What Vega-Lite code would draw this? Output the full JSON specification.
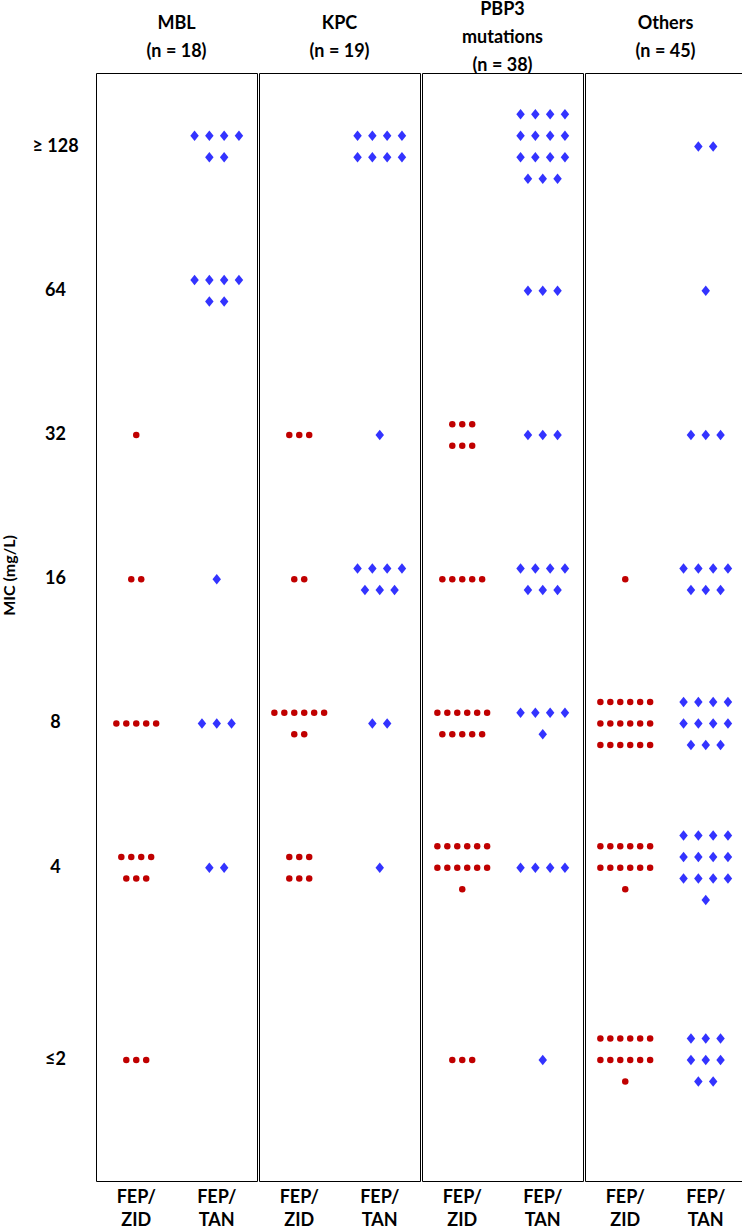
{
"$schema":"https://vega.github.io/schema/vega-lite/v6.json",
"padding":{"left":1,"top":1,"right":0,"bottom":0},
"background":"white",
"data":{"values":[
{"g":"MBL (n = 18)","d":"FEP/ZID","mic":"32","r":0,"c":0},
{"g":"MBL (n = 18)","d":"FEP/ZID","mic":"16","r":0,"c":-0.5},
{"g":"MBL (n = 18)","d":"FEP/ZID","mic":"16","r":0,"c":0.5},
{"g":"MBL (n = 18)","d":"FEP/ZID","mic":"8","r":0,"c":-2},
{"g":"MBL (n = 18)","d":"FEP/ZID","mic":"8","r":0,"c":-1},
{"g":"MBL (n = 18)","d":"FEP/ZID","mic":"8","r":0,"c":0},
{"g":"MBL (n = 18)","d":"FEP/ZID","mic":"8","r":0,"c":1},
{"g":"MBL (n = 18)","d":"FEP/ZID","mic":"8","r":0,"c":2},
{"g":"MBL (n = 18)","d":"FEP/ZID","mic":"4","r":-0.5,"c":-1.5},
{"g":"MBL (n = 18)","d":"FEP/ZID","mic":"4","r":-0.5,"c":-0.5},
{"g":"MBL (n = 18)","d":"FEP/ZID","mic":"4","r":-0.5,"c":0.5},
{"g":"MBL (n = 18)","d":"FEP/ZID","mic":"4","r":-0.5,"c":1.5},
{"g":"MBL (n = 18)","d":"FEP/ZID","mic":"4","r":0.5,"c":-1},
{"g":"MBL (n = 18)","d":"FEP/ZID","mic":"4","r":0.5,"c":0},
{"g":"MBL (n = 18)","d":"FEP/ZID","mic":"4","r":0.5,"c":1},
{"g":"MBL (n = 18)","d":"FEP/ZID","mic":"≤2","r":0,"c":-1},
{"g":"MBL (n = 18)","d":"FEP/ZID","mic":"≤2","r":0,"c":0},
{"g":"MBL (n = 18)","d":"FEP/ZID","mic":"≤2","r":0,"c":1},
{"g":"MBL (n = 18)","d":"FEP/TAN","mic":"≥ 128","r":-0.5,"c":-1.5},
{"g":"MBL (n = 18)","d":"FEP/TAN","mic":"≥ 128","r":-0.5,"c":-0.5},
{"g":"MBL (n = 18)","d":"FEP/TAN","mic":"≥ 128","r":-0.5,"c":0.5},
{"g":"MBL (n = 18)","d":"FEP/TAN","mic":"≥ 128","r":-0.5,"c":1.5},
{"g":"MBL (n = 18)","d":"FEP/TAN","mic":"≥ 128","r":0.5,"c":-0.5},
{"g":"MBL (n = 18)","d":"FEP/TAN","mic":"≥ 128","r":0.5,"c":0.5},
{"g":"MBL (n = 18)","d":"FEP/TAN","mic":"64","r":-0.5,"c":-1.5},
{"g":"MBL (n = 18)","d":"FEP/TAN","mic":"64","r":-0.5,"c":-0.5},
{"g":"MBL (n = 18)","d":"FEP/TAN","mic":"64","r":-0.5,"c":0.5},
{"g":"MBL (n = 18)","d":"FEP/TAN","mic":"64","r":-0.5,"c":1.5},
{"g":"MBL (n = 18)","d":"FEP/TAN","mic":"64","r":0.5,"c":-0.5},
{"g":"MBL (n = 18)","d":"FEP/TAN","mic":"64","r":0.5,"c":0.5},
{"g":"MBL (n = 18)","d":"FEP/TAN","mic":"16","r":0,"c":0},
{"g":"MBL (n = 18)","d":"FEP/TAN","mic":"8","r":0,"c":-1},
{"g":"MBL (n = 18)","d":"FEP/TAN","mic":"8","r":0,"c":0},
{"g":"MBL (n = 18)","d":"FEP/TAN","mic":"8","r":0,"c":1},
{"g":"MBL (n = 18)","d":"FEP/TAN","mic":"4","r":0,"c":-0.5},
{"g":"MBL (n = 18)","d":"FEP/TAN","mic":"4","r":0,"c":0.5},
{"g":"KPC (n = 19)","d":"FEP/ZID","mic":"32","r":0,"c":-1},
{"g":"KPC (n = 19)","d":"FEP/ZID","mic":"32","r":0,"c":0},
{"g":"KPC (n = 19)","d":"FEP/ZID","mic":"32","r":0,"c":1},
{"g":"KPC (n = 19)","d":"FEP/ZID","mic":"16","r":0,"c":-0.5},
{"g":"KPC (n = 19)","d":"FEP/ZID","mic":"16","r":0,"c":0.5},
{"g":"KPC (n = 19)","d":"FEP/ZID","mic":"8","r":-0.5,"c":-2.5},
{"g":"KPC (n = 19)","d":"FEP/ZID","mic":"8","r":-0.5,"c":-1.5},
{"g":"KPC (n = 19)","d":"FEP/ZID","mic":"8","r":-0.5,"c":-0.5},
{"g":"KPC (n = 19)","d":"FEP/ZID","mic":"8","r":-0.5,"c":0.5},
{"g":"KPC (n = 19)","d":"FEP/ZID","mic":"8","r":-0.5,"c":1.5},
{"g":"KPC (n = 19)","d":"FEP/ZID","mic":"8","r":-0.5,"c":2.5},
{"g":"KPC (n = 19)","d":"FEP/ZID","mic":"8","r":0.5,"c":-0.5},
{"g":"KPC (n = 19)","d":"FEP/ZID","mic":"8","r":0.5,"c":0.5},
{"g":"KPC (n = 19)","d":"FEP/ZID","mic":"4","r":-0.5,"c":-1},
{"g":"KPC (n = 19)","d":"FEP/ZID","mic":"4","r":-0.5,"c":0},
{"g":"KPC (n = 19)","d":"FEP/ZID","mic":"4","r":-0.5,"c":1},
{"g":"KPC (n = 19)","d":"FEP/ZID","mic":"4","r":0.5,"c":-1},
{"g":"KPC (n = 19)","d":"FEP/ZID","mic":"4","r":0.5,"c":0},
{"g":"KPC (n = 19)","d":"FEP/ZID","mic":"4","r":0.5,"c":1},
{"g":"KPC (n = 19)","d":"FEP/TAN","mic":"≥ 128","r":-0.5,"c":-1.5},
{"g":"KPC (n = 19)","d":"FEP/TAN","mic":"≥ 128","r":-0.5,"c":-0.5},
{"g":"KPC (n = 19)","d":"FEP/TAN","mic":"≥ 128","r":-0.5,"c":0.5},
{"g":"KPC (n = 19)","d":"FEP/TAN","mic":"≥ 128","r":-0.5,"c":1.5},
{"g":"KPC (n = 19)","d":"FEP/TAN","mic":"≥ 128","r":0.5,"c":-1.5},
{"g":"KPC (n = 19)","d":"FEP/TAN","mic":"≥ 128","r":0.5,"c":-0.5},
{"g":"KPC (n = 19)","d":"FEP/TAN","mic":"≥ 128","r":0.5,"c":0.5},
{"g":"KPC (n = 19)","d":"FEP/TAN","mic":"≥ 128","r":0.5,"c":1.5},
{"g":"KPC (n = 19)","d":"FEP/TAN","mic":"32","r":0,"c":0},
{"g":"KPC (n = 19)","d":"FEP/TAN","mic":"16","r":-0.5,"c":-1.5},
{"g":"KPC (n = 19)","d":"FEP/TAN","mic":"16","r":-0.5,"c":-0.5},
{"g":"KPC (n = 19)","d":"FEP/TAN","mic":"16","r":-0.5,"c":0.5},
{"g":"KPC (n = 19)","d":"FEP/TAN","mic":"16","r":-0.5,"c":1.5},
{"g":"KPC (n = 19)","d":"FEP/TAN","mic":"16","r":0.5,"c":-1},
{"g":"KPC (n = 19)","d":"FEP/TAN","mic":"16","r":0.5,"c":0},
{"g":"KPC (n = 19)","d":"FEP/TAN","mic":"16","r":0.5,"c":1},
{"g":"KPC (n = 19)","d":"FEP/TAN","mic":"8","r":0,"c":-0.5},
{"g":"KPC (n = 19)","d":"FEP/TAN","mic":"8","r":0,"c":0.5},
{"g":"KPC (n = 19)","d":"FEP/TAN","mic":"4","r":0,"c":0},
{"g":"PBP3 mutations (n = 38)","d":"FEP/ZID","mic":"32","r":-0.5,"c":-1},
{"g":"PBP3 mutations (n = 38)","d":"FEP/ZID","mic":"32","r":-0.5,"c":0},
{"g":"PBP3 mutations (n = 38)","d":"FEP/ZID","mic":"32","r":-0.5,"c":1},
{"g":"PBP3 mutations (n = 38)","d":"FEP/ZID","mic":"32","r":0.5,"c":-1},
{"g":"PBP3 mutations (n = 38)","d":"FEP/ZID","mic":"32","r":0.5,"c":0},
{"g":"PBP3 mutations (n = 38)","d":"FEP/ZID","mic":"32","r":0.5,"c":1},
{"g":"PBP3 mutations (n = 38)","d":"FEP/ZID","mic":"16","r":0,"c":-2},
{"g":"PBP3 mutations (n = 38)","d":"FEP/ZID","mic":"16","r":0,"c":-1},
{"g":"PBP3 mutations (n = 38)","d":"FEP/ZID","mic":"16","r":0,"c":0},
{"g":"PBP3 mutations (n = 38)","d":"FEP/ZID","mic":"16","r":0,"c":1},
{"g":"PBP3 mutations (n = 38)","d":"FEP/ZID","mic":"16","r":0,"c":2},
{"g":"PBP3 mutations (n = 38)","d":"FEP/ZID","mic":"8","r":-0.5,"c":-2.5},
{"g":"PBP3 mutations (n = 38)","d":"FEP/ZID","mic":"8","r":-0.5,"c":-1.5},
{"g":"PBP3 mutations (n = 38)","d":"FEP/ZID","mic":"8","r":-0.5,"c":-0.5},
{"g":"PBP3 mutations (n = 38)","d":"FEP/ZID","mic":"8","r":-0.5,"c":0.5},
{"g":"PBP3 mutations (n = 38)","d":"FEP/ZID","mic":"8","r":-0.5,"c":1.5},
{"g":"PBP3 mutations (n = 38)","d":"FEP/ZID","mic":"8","r":-0.5,"c":2.5},
{"g":"PBP3 mutations (n = 38)","d":"FEP/ZID","mic":"8","r":0.5,"c":-2},
{"g":"PBP3 mutations (n = 38)","d":"FEP/ZID","mic":"8","r":0.5,"c":-1},
{"g":"PBP3 mutations (n = 38)","d":"FEP/ZID","mic":"8","r":0.5,"c":0},
{"g":"PBP3 mutations (n = 38)","d":"FEP/ZID","mic":"8","r":0.5,"c":1},
{"g":"PBP3 mutations (n = 38)","d":"FEP/ZID","mic":"8","r":0.5,"c":2},
{"g":"PBP3 mutations (n = 38)","d":"FEP/ZID","mic":"4","r":-1,"c":-2.5},
{"g":"PBP3 mutations (n = 38)","d":"FEP/ZID","mic":"4","r":-1,"c":-1.5},
{"g":"PBP3 mutations (n = 38)","d":"FEP/ZID","mic":"4","r":-1,"c":-0.5},
{"g":"PBP3 mutations (n = 38)","d":"FEP/ZID","mic":"4","r":-1,"c":0.5},
{"g":"PBP3 mutations (n = 38)","d":"FEP/ZID","mic":"4","r":-1,"c":1.5},
{"g":"PBP3 mutations (n = 38)","d":"FEP/ZID","mic":"4","r":-1,"c":2.5},
{"g":"PBP3 mutations (n = 38)","d":"FEP/ZID","mic":"4","r":0,"c":-2.5},
{"g":"PBP3 mutations (n = 38)","d":"FEP/ZID","mic":"4","r":0,"c":-1.5},
{"g":"PBP3 mutations (n = 38)","d":"FEP/ZID","mic":"4","r":0,"c":-0.5},
{"g":"PBP3 mutations (n = 38)","d":"FEP/ZID","mic":"4","r":0,"c":0.5},
{"g":"PBP3 mutations (n = 38)","d":"FEP/ZID","mic":"4","r":0,"c":1.5},
{"g":"PBP3 mutations (n = 38)","d":"FEP/ZID","mic":"4","r":0,"c":2.5},
{"g":"PBP3 mutations (n = 38)","d":"FEP/ZID","mic":"4","r":1,"c":0},
{"g":"PBP3 mutations (n = 38)","d":"FEP/ZID","mic":"≤2","r":0,"c":-1},
{"g":"PBP3 mutations (n = 38)","d":"FEP/ZID","mic":"≤2","r":0,"c":0},
{"g":"PBP3 mutations (n = 38)","d":"FEP/ZID","mic":"≤2","r":0,"c":1},
{"g":"PBP3 mutations (n = 38)","d":"FEP/TAN","mic":"≥ 128","r":-1.5,"c":-1.5},
{"g":"PBP3 mutations (n = 38)","d":"FEP/TAN","mic":"≥ 128","r":-1.5,"c":-0.5},
{"g":"PBP3 mutations (n = 38)","d":"FEP/TAN","mic":"≥ 128","r":-1.5,"c":0.5},
{"g":"PBP3 mutations (n = 38)","d":"FEP/TAN","mic":"≥ 128","r":-1.5,"c":1.5},
{"g":"PBP3 mutations (n = 38)","d":"FEP/TAN","mic":"≥ 128","r":-0.5,"c":-1.5},
{"g":"PBP3 mutations (n = 38)","d":"FEP/TAN","mic":"≥ 128","r":-0.5,"c":-0.5},
{"g":"PBP3 mutations (n = 38)","d":"FEP/TAN","mic":"≥ 128","r":-0.5,"c":0.5},
{"g":"PBP3 mutations (n = 38)","d":"FEP/TAN","mic":"≥ 128","r":-0.5,"c":1.5},
{"g":"PBP3 mutations (n = 38)","d":"FEP/TAN","mic":"≥ 128","r":0.5,"c":-1.5},
{"g":"PBP3 mutations (n = 38)","d":"FEP/TAN","mic":"≥ 128","r":0.5,"c":-0.5},
{"g":"PBP3 mutations (n = 38)","d":"FEP/TAN","mic":"≥ 128","r":0.5,"c":0.5},
{"g":"PBP3 mutations (n = 38)","d":"FEP/TAN","mic":"≥ 128","r":0.5,"c":1.5},
{"g":"PBP3 mutations (n = 38)","d":"FEP/TAN","mic":"≥ 128","r":1.5,"c":-1},
{"g":"PBP3 mutations (n = 38)","d":"FEP/TAN","mic":"≥ 128","r":1.5,"c":0},
{"g":"PBP3 mutations (n = 38)","d":"FEP/TAN","mic":"≥ 128","r":1.5,"c":1},
{"g":"PBP3 mutations (n = 38)","d":"FEP/TAN","mic":"64","r":0,"c":-1},
{"g":"PBP3 mutations (n = 38)","d":"FEP/TAN","mic":"64","r":0,"c":0},
{"g":"PBP3 mutations (n = 38)","d":"FEP/TAN","mic":"64","r":0,"c":1},
{"g":"PBP3 mutations (n = 38)","d":"FEP/TAN","mic":"32","r":0,"c":-1},
{"g":"PBP3 mutations (n = 38)","d":"FEP/TAN","mic":"32","r":0,"c":0},
{"g":"PBP3 mutations (n = 38)","d":"FEP/TAN","mic":"32","r":0,"c":1},
{"g":"PBP3 mutations (n = 38)","d":"FEP/TAN","mic":"16","r":-0.5,"c":-1.5},
{"g":"PBP3 mutations (n = 38)","d":"FEP/TAN","mic":"16","r":-0.5,"c":-0.5},
{"g":"PBP3 mutations (n = 38)","d":"FEP/TAN","mic":"16","r":-0.5,"c":0.5},
{"g":"PBP3 mutations (n = 38)","d":"FEP/TAN","mic":"16","r":-0.5,"c":1.5},
{"g":"PBP3 mutations (n = 38)","d":"FEP/TAN","mic":"16","r":0.5,"c":-1},
{"g":"PBP3 mutations (n = 38)","d":"FEP/TAN","mic":"16","r":0.5,"c":0},
{"g":"PBP3 mutations (n = 38)","d":"FEP/TAN","mic":"16","r":0.5,"c":1},
{"g":"PBP3 mutations (n = 38)","d":"FEP/TAN","mic":"8","r":-0.5,"c":-1.5},
{"g":"PBP3 mutations (n = 38)","d":"FEP/TAN","mic":"8","r":-0.5,"c":-0.5},
{"g":"PBP3 mutations (n = 38)","d":"FEP/TAN","mic":"8","r":-0.5,"c":0.5},
{"g":"PBP3 mutations (n = 38)","d":"FEP/TAN","mic":"8","r":-0.5,"c":1.5},
{"g":"PBP3 mutations (n = 38)","d":"FEP/TAN","mic":"8","r":0.5,"c":0},
{"g":"PBP3 mutations (n = 38)","d":"FEP/TAN","mic":"4","r":0,"c":-1.5},
{"g":"PBP3 mutations (n = 38)","d":"FEP/TAN","mic":"4","r":0,"c":-0.5},
{"g":"PBP3 mutations (n = 38)","d":"FEP/TAN","mic":"4","r":0,"c":0.5},
{"g":"PBP3 mutations (n = 38)","d":"FEP/TAN","mic":"4","r":0,"c":1.5},
{"g":"PBP3 mutations (n = 38)","d":"FEP/TAN","mic":"≤2","r":0,"c":0},
{"g":"Others (n = 45)","d":"FEP/ZID","mic":"16","r":0,"c":0},
{"g":"Others (n = 45)","d":"FEP/ZID","mic":"8","r":-1,"c":-2.5},
{"g":"Others (n = 45)","d":"FEP/ZID","mic":"8","r":-1,"c":-1.5},
{"g":"Others (n = 45)","d":"FEP/ZID","mic":"8","r":-1,"c":-0.5},
{"g":"Others (n = 45)","d":"FEP/ZID","mic":"8","r":-1,"c":0.5},
{"g":"Others (n = 45)","d":"FEP/ZID","mic":"8","r":-1,"c":1.5},
{"g":"Others (n = 45)","d":"FEP/ZID","mic":"8","r":-1,"c":2.5},
{"g":"Others (n = 45)","d":"FEP/ZID","mic":"8","r":0,"c":-2.5},
{"g":"Others (n = 45)","d":"FEP/ZID","mic":"8","r":0,"c":-1.5},
{"g":"Others (n = 45)","d":"FEP/ZID","mic":"8","r":0,"c":-0.5},
{"g":"Others (n = 45)","d":"FEP/ZID","mic":"8","r":0,"c":0.5},
{"g":"Others (n = 45)","d":"FEP/ZID","mic":"8","r":0,"c":1.5},
{"g":"Others (n = 45)","d":"FEP/ZID","mic":"8","r":0,"c":2.5},
{"g":"Others (n = 45)","d":"FEP/ZID","mic":"8","r":1,"c":-2.5},
{"g":"Others (n = 45)","d":"FEP/ZID","mic":"8","r":1,"c":-1.5},
{"g":"Others (n = 45)","d":"FEP/ZID","mic":"8","r":1,"c":-0.5},
{"g":"Others (n = 45)","d":"FEP/ZID","mic":"8","r":1,"c":0.5},
{"g":"Others (n = 45)","d":"FEP/ZID","mic":"8","r":1,"c":1.5},
{"g":"Others (n = 45)","d":"FEP/ZID","mic":"8","r":1,"c":2.5},
{"g":"Others (n = 45)","d":"FEP/ZID","mic":"4","r":-1,"c":-2.5},
{"g":"Others (n = 45)","d":"FEP/ZID","mic":"4","r":-1,"c":-1.5},
{"g":"Others (n = 45)","d":"FEP/ZID","mic":"4","r":-1,"c":-0.5},
{"g":"Others (n = 45)","d":"FEP/ZID","mic":"4","r":-1,"c":0.5},
{"g":"Others (n = 45)","d":"FEP/ZID","mic":"4","r":-1,"c":1.5},
{"g":"Others (n = 45)","d":"FEP/ZID","mic":"4","r":-1,"c":2.5},
{"g":"Others (n = 45)","d":"FEP/ZID","mic":"4","r":0,"c":-2.5},
{"g":"Others (n = 45)","d":"FEP/ZID","mic":"4","r":0,"c":-1.5},
{"g":"Others (n = 45)","d":"FEP/ZID","mic":"4","r":0,"c":-0.5},
{"g":"Others (n = 45)","d":"FEP/ZID","mic":"4","r":0,"c":0.5},
{"g":"Others (n = 45)","d":"FEP/ZID","mic":"4","r":0,"c":1.5},
{"g":"Others (n = 45)","d":"FEP/ZID","mic":"4","r":0,"c":2.5},
{"g":"Others (n = 45)","d":"FEP/ZID","mic":"4","r":1,"c":0},
{"g":"Others (n = 45)","d":"FEP/ZID","mic":"≤2","r":-1,"c":-2.5},
{"g":"Others (n = 45)","d":"FEP/ZID","mic":"≤2","r":-1,"c":-1.5},
{"g":"Others (n = 45)","d":"FEP/ZID","mic":"≤2","r":-1,"c":-0.5},
{"g":"Others (n = 45)","d":"FEP/ZID","mic":"≤2","r":-1,"c":0.5},
{"g":"Others (n = 45)","d":"FEP/ZID","mic":"≤2","r":-1,"c":1.5},
{"g":"Others (n = 45)","d":"FEP/ZID","mic":"≤2","r":-1,"c":2.5},
{"g":"Others (n = 45)","d":"FEP/ZID","mic":"≤2","r":0,"c":-2.5},
{"g":"Others (n = 45)","d":"FEP/ZID","mic":"≤2","r":0,"c":-1.5},
{"g":"Others (n = 45)","d":"FEP/ZID","mic":"≤2","r":0,"c":-0.5},
{"g":"Others (n = 45)","d":"FEP/ZID","mic":"≤2","r":0,"c":0.5},
{"g":"Others (n = 45)","d":"FEP/ZID","mic":"≤2","r":0,"c":1.5},
{"g":"Others (n = 45)","d":"FEP/ZID","mic":"≤2","r":0,"c":2.5},
{"g":"Others (n = 45)","d":"FEP/ZID","mic":"≤2","r":1,"c":0},
{"g":"Others (n = 45)","d":"FEP/TAN","mic":"≥ 128","r":0,"c":-0.5},
{"g":"Others (n = 45)","d":"FEP/TAN","mic":"≥ 128","r":0,"c":0.5},
{"g":"Others (n = 45)","d":"FEP/TAN","mic":"64","r":0,"c":0},
{"g":"Others (n = 45)","d":"FEP/TAN","mic":"32","r":0,"c":-1},
{"g":"Others (n = 45)","d":"FEP/TAN","mic":"32","r":0,"c":0},
{"g":"Others (n = 45)","d":"FEP/TAN","mic":"32","r":0,"c":1},
{"g":"Others (n = 45)","d":"FEP/TAN","mic":"16","r":-0.5,"c":-1.5},
{"g":"Others (n = 45)","d":"FEP/TAN","mic":"16","r":-0.5,"c":-0.5},
{"g":"Others (n = 45)","d":"FEP/TAN","mic":"16","r":-0.5,"c":0.5},
{"g":"Others (n = 45)","d":"FEP/TAN","mic":"16","r":-0.5,"c":1.5},
{"g":"Others (n = 45)","d":"FEP/TAN","mic":"16","r":0.5,"c":-1},
{"g":"Others (n = 45)","d":"FEP/TAN","mic":"16","r":0.5,"c":0},
{"g":"Others (n = 45)","d":"FEP/TAN","mic":"16","r":0.5,"c":1},
{"g":"Others (n = 45)","d":"FEP/TAN","mic":"8","r":-1,"c":-1.5},
{"g":"Others (n = 45)","d":"FEP/TAN","mic":"8","r":-1,"c":-0.5},
{"g":"Others (n = 45)","d":"FEP/TAN","mic":"8","r":-1,"c":0.5},
{"g":"Others (n = 45)","d":"FEP/TAN","mic":"8","r":-1,"c":1.5},
{"g":"Others (n = 45)","d":"FEP/TAN","mic":"8","r":0,"c":-1.5},
{"g":"Others (n = 45)","d":"FEP/TAN","mic":"8","r":0,"c":-0.5},
{"g":"Others (n = 45)","d":"FEP/TAN","mic":"8","r":0,"c":0.5},
{"g":"Others (n = 45)","d":"FEP/TAN","mic":"8","r":0,"c":1.5},
{"g":"Others (n = 45)","d":"FEP/TAN","mic":"8","r":1,"c":-1},
{"g":"Others (n = 45)","d":"FEP/TAN","mic":"8","r":1,"c":0},
{"g":"Others (n = 45)","d":"FEP/TAN","mic":"8","r":1,"c":1},
{"g":"Others (n = 45)","d":"FEP/TAN","mic":"4","r":-1.5,"c":-1.5},
{"g":"Others (n = 45)","d":"FEP/TAN","mic":"4","r":-1.5,"c":-0.5},
{"g":"Others (n = 45)","d":"FEP/TAN","mic":"4","r":-1.5,"c":0.5},
{"g":"Others (n = 45)","d":"FEP/TAN","mic":"4","r":-1.5,"c":1.5},
{"g":"Others (n = 45)","d":"FEP/TAN","mic":"4","r":-0.5,"c":-1.5},
{"g":"Others (n = 45)","d":"FEP/TAN","mic":"4","r":-0.5,"c":-0.5},
{"g":"Others (n = 45)","d":"FEP/TAN","mic":"4","r":-0.5,"c":0.5},
{"g":"Others (n = 45)","d":"FEP/TAN","mic":"4","r":-0.5,"c":1.5},
{"g":"Others (n = 45)","d":"FEP/TAN","mic":"4","r":0.5,"c":-1.5},
{"g":"Others (n = 45)","d":"FEP/TAN","mic":"4","r":0.5,"c":-0.5},
{"g":"Others (n = 45)","d":"FEP/TAN","mic":"4","r":0.5,"c":0.5},
{"g":"Others (n = 45)","d":"FEP/TAN","mic":"4","r":0.5,"c":1.5},
{"g":"Others (n = 45)","d":"FEP/TAN","mic":"4","r":1.5,"c":0},
{"g":"Others (n = 45)","d":"FEP/TAN","mic":"≤2","r":-1,"c":-1},
{"g":"Others (n = 45)","d":"FEP/TAN","mic":"≤2","r":-1,"c":0},
{"g":"Others (n = 45)","d":"FEP/TAN","mic":"≤2","r":-1,"c":1},
{"g":"Others (n = 45)","d":"FEP/TAN","mic":"≤2","r":0,"c":-1},
{"g":"Others (n = 45)","d":"FEP/TAN","mic":"≤2","r":0,"c":0},
{"g":"Others (n = 45)","d":"FEP/TAN","mic":"≤2","r":0,"c":1},
{"g":"Others (n = 45)","d":"FEP/TAN","mic":"≤2","r":1,"c":-0.5},
{"g":"Others (n = 45)","d":"FEP/TAN","mic":"≤2","r":1,"c":0.5}
]},
"facet":{"column":{"field":"g","type":"nominal","sort":["MBL (n = 18)","KPC (n = 19)","PBP3 mutations (n = 38)","Others (n = 45)"],"title":null,
  "header":{"labelExpr":"split(indexof(datum.label, ' m') > 0 ? replace(replace(datum.label, ' m', '|\u200b|m'), ' (', '|\u200b|(') : '\u200b|' + replace(datum.label, ' (', '|\u200b|(') + '|\u200b', '|')","labelFont":"Lato","labelFontSize":18,"labelFontWeight":"bold","labelColor":"#000000","labelLineHeight":14,"labelBaseline":"middle","labelPadding":-12}}},
"spacing":0,
"spec":{
  "width":161,"height":1108,
  "encoding":{
    "x":{"field":"d","type":"nominal","bandPosition":0,
      "scale":{"domain":["FEP/ZID","FEP/TAN"],"paddingInner":0,"paddingOuter":0},
      "axis":{"title":null,"labelExpr":"[slice(datum.label,0,4), slice(datum.label,4)]","labelAngle":0,"labelPadding":6,"labelFont":"Lato","labelFontSize":18,"labelFontWeight":"bold","labelColor":"#000000","labelLineHeight":23,"labelBaseline":"top","ticks":false,"domain":false,"grid":false,"labelOverlap":false}},
    "y":{"field":"mic","type":"nominal","bandPosition":0,
      "scale":{"type":"band","domain":["≥ 128","s1","s2","64","s3","s4","32","s5","s6","16","s7","s8","8","s9","s10","4","s11","s12","s13","≤2"],"range":[49.46,1011.06],"paddingInner":0,"paddingOuter":0},
      "axis":{"values":["≥ 128","64","32","16","8","4","≤2"],"labelAlign":"center","labelBaseline":"middle","labelPadding":40,"ticks":false,"domain":false,"grid":false,"labelFont":"Lato","labelFontSize":18,"labelFontWeight":"bold","labelColor":"#000000","title":"MIC (mg/L)","titleFont":"Lato","titleFontSize":16,"titleFontWeight":"bold","titleColor":"#000000","titleX":-86,"titleY":502,"titleAngle":-90,"titleAlign":"center","titleBaseline":"middle"}},
    "yOffset":{"field":"r","type":"quantitative","scale":{"domain":[-1,1],"range":[2.54,45.54]}}
  },
  "layer":[
    {"transform":[{"filter":"datum.d === 'FEP/ZID'"}],
     "mark":{"type":"point","shape":"circle","filled":true,"size":42,"color":"#C00000","opacity":1,"strokeWidth":0},
     "encoding":{"xOffset":{"field":"c","type":"quantitative","scale":{"domain":[-1,1],"range":[30.3,50.2]}}}},
    {"transform":[{"filter":"datum.d === 'FEP/TAN'"}],
     "mark":{"type":"point","shape":"M0,-1L0.8,0L0,1L-0.8,0Z","filled":true,"size":112,"color":"#3333FF","opacity":1,"strokeWidth":0},
     "encoding":{"xOffset":{"field":"c","type":"quantitative","scale":{"domain":[-1,1],"range":[25.45,55.05]}}}}
  ],
  "resolve":{"scale":{"xOffset":"independent"}}
},
"config":{"font":"Lato","view":{"stroke":"#000000","strokeWidth":1}}
}
